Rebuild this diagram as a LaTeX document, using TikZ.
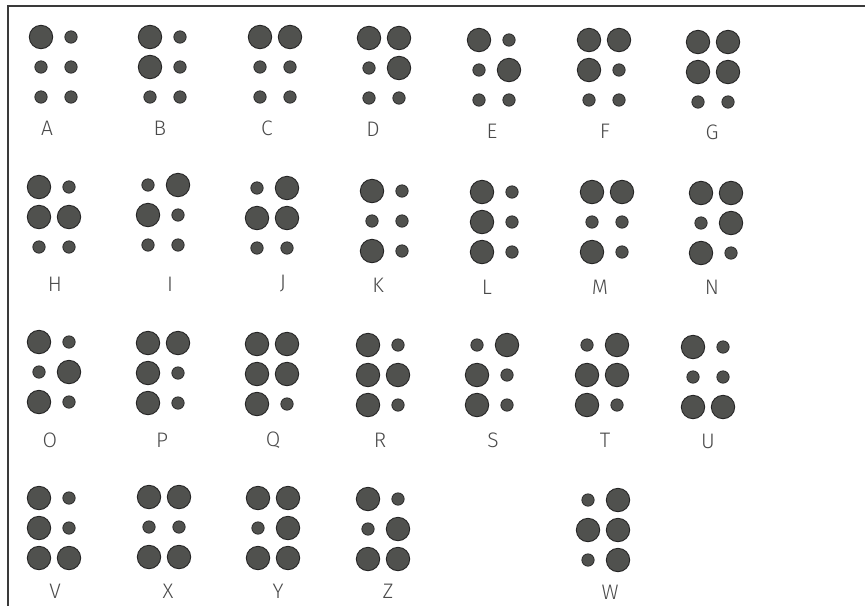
\documentclass[tikz,border=0pt]{standalone}
\usepackage{fontspec}
\newfontfamily\lblfont{Fira Sans Light}
\definecolor{dotgray}{HTML}{50514E}
\definecolor{dotedge}{HTML}{262626}
\definecolor{framegray}{HTML}{3A3A3A}
\definecolor{lettergray}{HTML}{4A4A4A}

\begin{document}
\begin{tikzpicture}[
		x=1pt, y=-1pt,
		raised/.style={fill=dotgray, draw=dotedge, line width=0.9pt},
		flat/.style={fill=dotgray, draw=dotedge, line width=0.7pt},
		letter/.style={font=\lblfont\fontsize{21}{22}\selectfont, text=lettergray,
				inner sep=0pt},
		frameline/.style={draw=framegray, line width=1.6pt},
	]
	\useasboundingbox (0,0) rectangle (865,606);

	% page frame, only top and left edges
	\coordinate (frametop) at (865,6);
	\coordinate (framecorner) at (8,6);
	\coordinate (framefoot) at (8,606);
	\draw[frameline] (frametop) -- (framecorner) -- (framefoot);

	% cells: left dot x / top dot y / dots 1-6 / letter / label x / label y
	\foreach \cx/\cy/\pat/\ltr/\lx/\ly in {
			41/37/{1,0,0,0,0,0}/A/47/128,
			150/37/{1,1,0,0,0,0}/B/160/128,
			260/37/{1,0,0,1,0,0}/C/267/128,
			369/38/{1,0,0,1,1,0}/D/373/129,
			479/40/{1,0,0,0,1,0}/E/492/131,
			589/40/{1,1,0,1,0,0}/F/605/131,
			698/42/{1,1,0,1,1,0}/G/712/132,
			39/187/{1,1,0,0,1,0}/H/55/284,
			148/185/{0,1,0,1,0,0}/I/170/284,
			257/188/{0,1,0,1,1,0}/J/283/284,
			372/191/{1,0,1,0,0,0}/K/378/285,
			482/192/{1,1,1,0,0,0}/L/487/287,
			592/192/{1,0,1,1,0,0}/M/600/287,
			701/193/{1,0,1,1,1,0}/N/712/287,
			39/342/{1,0,1,0,1,0}/O/50/440,
			148/343/{1,1,1,1,0,0}/P/162/440,
			257/344/{1,1,1,1,1,0}/Q/273/440,
			368/345/{1,1,1,0,1,0}/R/380/440,
			477/345/{0,1,1,1,0,0}/S/493/440,
			587/345/{0,1,1,1,1,0}/T/605/440,
			693/347/{1,0,1,0,0,1}/U/708/441,
			39/498/{1,1,1,0,0,1}/V/55/591,
			149/497/{1,0,1,1,0,1}/X/168/591,
			258/498/{1,0,1,1,1,1}/Y/278/591,
			368/499/{1,0,1,0,1,1}/Z/388/591,
			588/500/{0,1,0,1,1,1}/W/610/592}
	{
		\foreach \p [count=\i] in \pat {
			\pgfmathtruncatemacro{\col}{(\i-1)/3}
			\pgfmathtruncatemacro{\row}{mod(\i-1,3)}
			\ifnum\p=1
				\draw[raised] (\cx+30*\col, \cy+30*\row) circle[radius=11.7pt];
			\else
				\draw[flat] (\cx+30*\col, \cy+30*\row) circle[radius=6.2pt];
			\fi
		}
		\node[letter] (lbl\ltr) at (\lx,\ly) {\ltr};
	}

\end{tikzpicture}
\end{document}
